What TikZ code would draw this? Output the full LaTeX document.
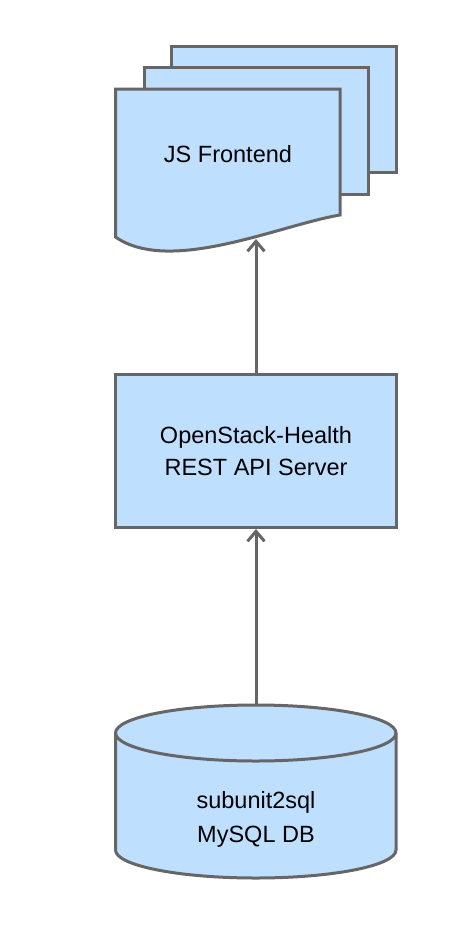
\documentclass[tikz,border=0pt]{standalone}
\usepackage{fontspec}
\setmainfont{Liberation Sans}
\usetikzlibrary{arrows.meta}
\definecolor{boxblue}{RGB}{191,223,255}
\definecolor{edgegray}{RGB}{102,102,102}
\tikzset{
    x=1pt, y=-1pt, % pixel like coordinates, y grows downwards
    boxshape/.style={draw=edgegray, fill=boxblue, line width=3pt, line join=miter}, % every drawn block
    boxtext/.style={font=\fontsize{23.5}{32}\selectfont, align=center, inner sep=0pt},
    link/.style={-{Straight Barb[length=10pt,width=17pt]}, draw=edgegray, line width=3pt},
    }

\begin{document}
\begin{tikzpicture}
    \useasboundingbox (0,0) rectangle (452,950);

    % stacked documents
    \draw[boxshape] (171.5,46.5) rectangle (396,172.5);
    \draw[boxshape] (144,68) rectangle (368,194);
    \draw[boxshape] (115.5,89) -- (340,89) -- (340,215)
        .. controls (280,225) and (170,275) .. (115.5,237) -- cycle;
    \node[boxtext] (frontend) at (228,154) {JS Frontend};
    \coordinate (fronttip) at (256,239);

    % api server
    \node[boxshape, minimum width=281pt, minimum height=153.5pt] (api) at (256,450.75) {};
    \node[boxtext] (apitext) at (api.center) {OpenStack-Health\\REST API Server};

    % database
    \draw[boxshape] (115.5,733) -- (115.5,850)
        arc[start angle=180, end angle=360, x radius=140.25pt, y radius=28pt]
        -- (396,733)
        arc[start angle=0, end angle=180, x radius=140.25pt, y radius=28pt] -- cycle;
    \draw[boxshape, fill=none] (115.5,733)
        arc[start angle=180, end angle=360, x radius=140.25pt, y radius=28pt];
    \node[boxtext] (db) at (256,819) {subunit2sql\\[2pt]MySQL DB};
    \coordinate (dbtop) at (256,705);

    \draw[link] (api.north) -- (fronttip);
    \draw[link] (dbtop) -- (api.south);
\end{tikzpicture}
\end{document}
